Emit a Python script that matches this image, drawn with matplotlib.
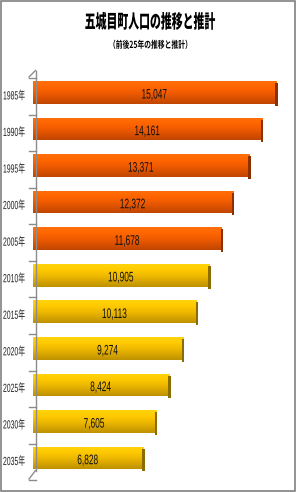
import numpy as np
import matplotlib
matplotlib.use("Agg")
import matplotlib.pyplot as plt
from matplotlib.patches import Rectangle
from matplotlib.lines import Line2D
from matplotlib.patheffects import AbstractPathEffect
from matplotlib.transforms import Affine2D

# ---- data ----
years = ["1985年", "1990年", "1995年", "2000年", "2005年", "2010年",
         "2015年", "2020年", "2025年", "2030年", "2035年"]
population = [15047, 14161, 13371, 12372, 11678, 10905, 10113, 9274, 8424, 7605, 6828]
is_projection = [False, False, False, False, False, True, True, True, True, True, True]
title = "五城目町人口の推移と推計"
subtitle = "（前後25年の推移と推計）"

W, H = 296, 492
fig = plt.figure(figsize=(W / 100, H / 100), dpi=100)
fig.patch.set_facecolor("white")


class HScale(AbstractPathEffect):
    """Horizontally condense a text around its anchor point."""
    def __init__(self, sx):
        super().__init__()
        self.sx = sx
        self.text = None

    def draw_path(self, renderer, gc, tpath, affine, rgbFace=None):
        x0 = self.text.get_transform().transform(self.text.get_unitless_position())[0]
        t = affine + Affine2D().translate(-x0, 0).scale(self.sx, 1).translate(x0, 0)
        renderer.draw_path(gc, tpath, t, rgbFace)


def condensed(txt, sx):
    pe = HScale(sx)
    pe.text = txt
    txt.set_path_effects([pe])
    return txt


def fx(x):
    return x / W


def fy(y):
    return 1 - y / H


# axes placement (pixels)
ax_left, ax_right, ax_top, ax_bottom = 32.5, 292.0, 74.1, 476.3
ax = fig.add_axes([fx(ax_left), fy(ax_bottom), (ax_right - ax_left) / W, (ax_bottom - ax_top) / H])
ax.set_facecolor("none")
n = len(years)
ypos = np.arange(n)
px_per_unit = 0.01618
unit_px = 1 / px_per_unit
ax.axis("off")

bh = 0.62
orange_grad = np.array([[255, 112, 12], [255, 102, 0], [242, 92, 0], [218, 80, 0], [192, 70, 0]]) / 255
yellow_grad = np.array([[255, 212, 12], [255, 202, 0], [240, 186, 0], [216, 166, 0], [190, 146, 0]]) / 255


def make_grad(stops, m=40):
    t = np.linspace(0, 1, m)
    s = np.linspace(0, 1, len(stops))
    arr = np.stack([np.interp(t, s, stops[:, c]) for c in range(3)], axis=-1)
    return arr[:, None, :]


og = make_grad(orange_grad)
yg = make_grad(yellow_grad)
bars = ax.barh(ypos, population, height=bh, color=["#FFCC00" if p else "#FF6600" for p in is_projection])
for b, v, y, proj in zip(bars, population, ypos, is_projection):
    im = ax.imshow(yg if proj else og, extent=(0, v, y + bh / 2, y - bh / 2),
                   aspect="auto", origin="upper", zorder=3, interpolation="bilinear")
    im.set_clip_path(b)
    cap_col = "#8A6C00" if proj else "#8C3000"
    ax.add_patch(Rectangle((v - 0.5 * unit_px, y - bh / 2 + 2 / 36.56), 2.2 * unit_px, bh,
                           facecolor=cap_col, edgecolor="none", zorder=4))
    t = ax.text(v / 2, y + 0.06, f"{v:,}", ha="center", va="center", fontsize=10,
                family=["Liberation Sans", "DejaVu Sans"], color="#111111", zorder=5)
    condensed(t, 0.6)

ax.set_xlim(0, (ax_right - ax_left) / px_per_unit)
ax.set_ylim(n - 0.5, -0.5)

# category labels (anchored at their left edge, condensed towards the axis)
for y, lab in zip(ypos, years):
    t = ax.text(-29.5 * unit_px, y + 0.11, lab, ha="left", va="center", fontsize=8.5,
                family=["Liberation Sans", "Noto Sans CJK JP"], color="#222222", clip_on=False)
    condensed(t, 0.58)

# 3D-like axis lines (figure pixels)
gray = "#8c8c8c"
lines = [
    [(35.5, 70.5), (35.5, 470.5)],
    [(29.0, 77.0), (35.5, 70.5)],
    [(29.0, 479.0), (35.5, 470.5)],
]
for (x0, y0), (x1, y1) in lines:
    fig.add_artist(Line2D([fx(x0), fx(x1)], [fy(y0), fy(y1)], color=gray, lw=1.0))
spacing = (ax_bottom - ax_top) / n
for k in range(n + 1):
    yy = ax_top + k * spacing + 4
    fig.add_artist(Line2D([fx(29.0), fx(35.5)], [fy(yy), fy(yy)], color=gray, lw=1.0))

# titles
t1 = fig.text(fx(150), fy(22.5), title, ha="center", va="center", fontsize=13.5, fontweight="black",
              family=["Noto Sans CJK JP"], color="black")
condensed(t1, 0.58)
t2 = fig.text(fx(150.5), fy(45), subtitle, ha="center", va="center", fontsize=7, fontweight="bold",
              family=["Noto Sans CJK JP", "DejaVu Sans"], color="black")
condensed(t2, 0.7)

# outer border
fig.add_artist(Rectangle((fx(0.5), fy(490.5)), 294 / W, 490 / H, transform=fig.transFigure,
                         fill=False, edgecolor="#808080", lw=1.2))

fig.savefig("out.png", dpi=100, facecolor="white")
